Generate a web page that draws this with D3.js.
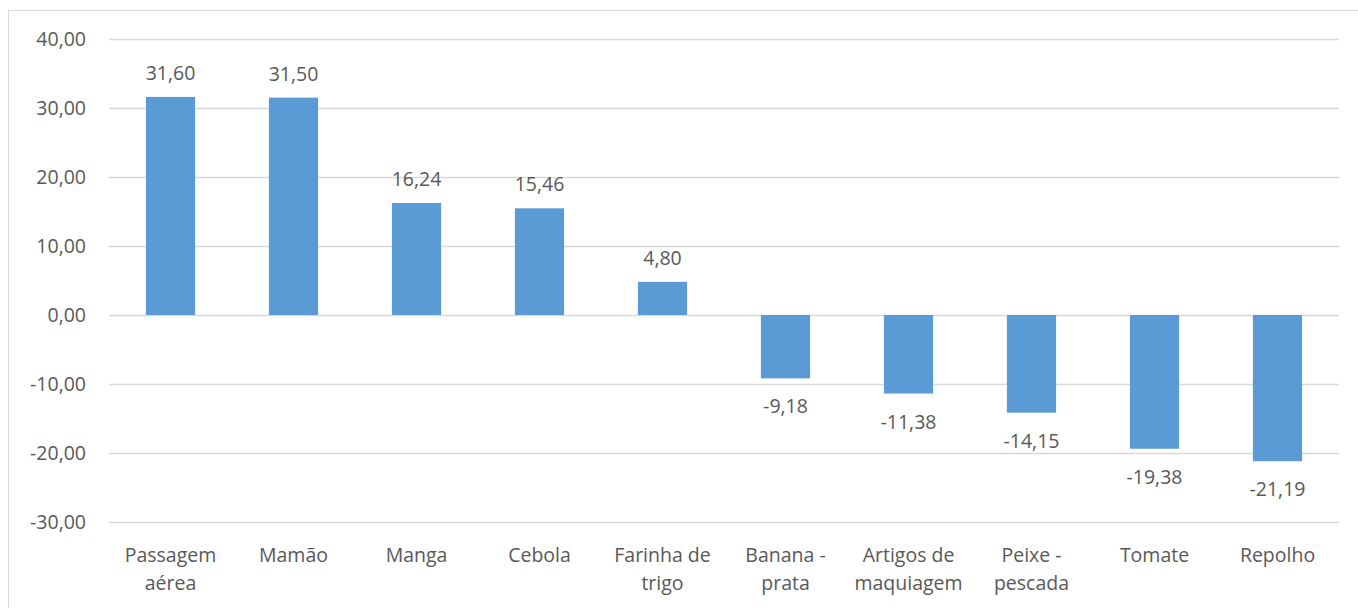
<!DOCTYPE html>
<html>
<head>
<meta charset="utf-8">
<script src="https://cdn.jsdelivr.net/npm/d3@7"></script>
<style>
body{margin:0;background:#fff;}
text{font-family:"Open Sans",sans-serif;fill:#595959;}
</style>
</head>
<body>
<svg width="1358" height="608"></svg>
<script>
var categories = [["Passagem","aérea"],["Mamão"],["Manga"],["Cebola"],["Farinha de","trigo"],["Banana -","prata"],["Artigos de","maquiagem"],["Peixe -","pescada"],["Tomate"],["Repolho"]];
var values = [31.60,31.50,16.24,15.46,4.80,-9.18,-11.38,-14.15,-19.38,-21.19];
var yTicks = [-30,-20,-10,0,10,20,30,40];

var svg = d3.select("svg"),
	margin = {top: 39, right: 19, bottom: 85, left: 109},
	width = 1358 - margin.left - margin.right,
	height = 608 - margin.top - margin.bottom;

svg.append("rect")
	.attr("x", 8.5).attr("y", 10.5)
	.attr("width", 1360).attr("height", 610)
	.attr("fill", "none").attr("stroke", "#d9d9d9");

var g = svg.append("g").attr("transform", "translate(" + margin.left + "," + margin.top + ")");
// Excel style number: comma decimal, plain hyphen
var fmt = function(v){ return v.toFixed(2).replace(".", ","); };

var x = d3.scaleBand()
	.domain(d3.range(values.length))
	.range([0, width])
	.paddingInner(0.6).paddingOuter(0.3);
var y = d3.scaleLinear()
	.domain([-30, 40])
	.range([483, 0]);

// gridlines
g.append("g")
	.call(d3.axisLeft(y).tickValues(yTicks).tickSize(-width).tickFormat(fmt).tickPadding(23))
	.call(function(a){
		a.select(".domain").remove();
		a.selectAll("line").attr("stroke", "#d9d9d9").attr("stroke-width", 1.3);
		a.selectAll("text").attr("font-size", 19.5).attr("fill", "#595959");
	});

g.selectAll(".bar")
	.data(values)
	.enter().append("rect")
	.attr("class", "bar")
	.attr("x", function(d, i){ return x(i); })
	.attr("width", x.bandwidth())
	.attr("y", function(d){ return y(Math.max(0, d)); })
	.attr("height", function(d){ return Math.abs(y(d) - y(0)); })
	.attr("fill", "#5b9bd5");

g.selectAll(".lbl")
	.data(values)
	.enter().append("text")
	.attr("class", "lbl")
	.attr("x", function(d, i){ return x(i) + x.bandwidth() / 2; })
	.attr("y", function(d){ return d >= 0 ? y(d) - 17 : y(d) + 35; })
	.attr("text-anchor", "middle")
	.attr("font-size", 19.5)
	.attr("fill", "#404040")
	.text(fmt);

var cat = g.selectAll(".cat")
	.data(categories)
	.enter().append("text")
	.attr("class", "cat")
	.attr("text-anchor", "middle")
	.attr("font-size", 19.5)
	.attr("transform", function(d, i){ return "translate(" + (x(i) + x.bandwidth() / 2) + "," + (y(-30) + 40) + ")"; });
cat.selectAll("tspan")
	.data(function(d){ return d; })
	.enter().append("tspan")
	.attr("x", 0)
	.attr("dy", function(d, i){ return i ? 28 : 0; })
	.text(function(d){ return d; });
</script>
</body>
</html>
